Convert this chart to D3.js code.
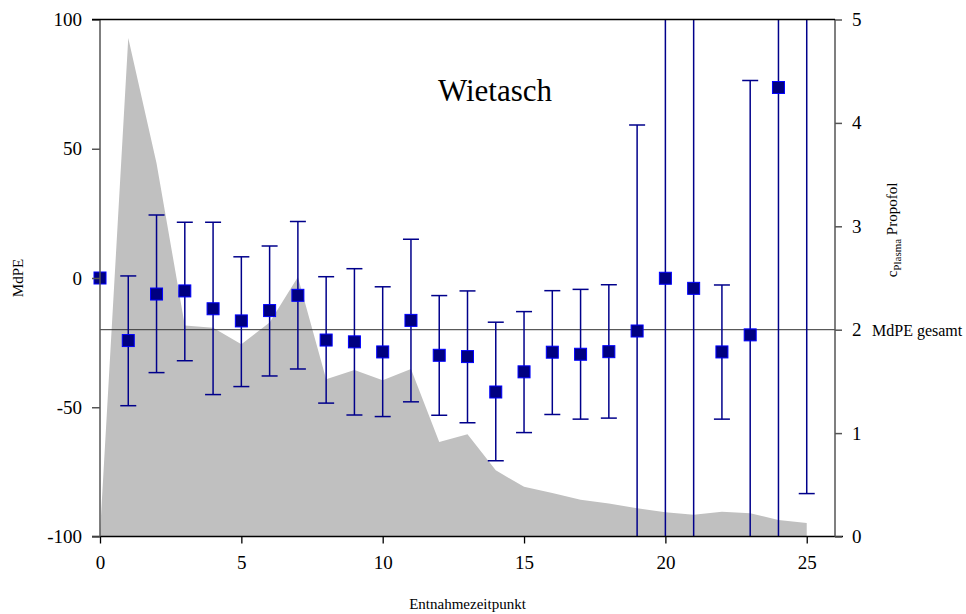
<!DOCTYPE html>
<html>
<head>
<meta charset="utf-8">
<script src="https://cdn.jsdelivr.net/npm/d3@7"></script>
<style>
  body { margin: 0; background: #fff; }
  text { font-family: "Liberation Serif", "Times New Roman", serif; fill: #000; }
</style>
</head>
<body>
<div id="chart"></div>
<script>
// Entnahmezeitpunkte (x)
var timepoints = [0,1,2,3,4,5,6,7,8,9,10,11,12,13,14,15,16,17,18,19,20,21,22,23,24,25];
// MdPE median per Zeitpunkt (null = ausserhalb)
var mdpe = [0, -24.2, -6.2, -5.0, -11.9, -16.6, -12.6, -6.7, -24.0, -24.7, -28.6, -16.4, -29.9,
            -30.4, -44.1, -36.3, -28.7, -29.5, -28.5, -20.5, -0.1, -4.0, -28.6, -22.0, 73.7, null];
// Fehlerbalken oben / unten (Werte > 100 bzw. < -100 werden abgeschnitten)
var upper = [null, 0.8, 24.4, 21.6, 21.6, 8.2, 12.4, 21.9, 0.5, 3.6, -3.4, 15.0, -6.8,
             -5.0, -17.1, -13.0, -4.9, -4.4, -2.6, 59.2, 140, 140, -2.7, 76.4, 140, 140];
var lower = [null, -49.4, -36.6, -32.0, -45.1, -42.0, -37.9, -35.2, -48.4, -53.0, -53.6, -47.9, -53.1,
             -56.0, -70.7, -59.8, -52.8, -54.6, -54.2, -140, -140, -140, -54.6, -140, -140, -83.4];
// c Plasma Propofol (rechte Achse)
var conc = [0.03, 4.82, 3.61, 2.04, 2.02, 1.86, 2.07, 2.51, 1.52, 1.61, 1.51, 1.62, 0.915,
            0.99, 0.64, 0.48, 0.42, 0.355, 0.32, 0.274, 0.235, 0.21, 0.24, 0.226, 0.16, 0.13];
var mdpeGesamt = -20;

var xTicks = [0, 5, 10, 15, 20, 25];
var yLeftTicks = [-100, -50, 0, 50, 100];
var yRightTicks = [0, 1, 2, 3, 4, 5];

var width = 966, height = 614;
var pLeft = 100, pRight = 835, pTop = 19.5, pBottom = 536.5;

var svg = d3.select("#chart").append("svg")
    .attr("width", width)
    .attr("height", height);

var x = d3.scaleLinear().domain([0, 26]).range([pLeft, pRight]);
var yL = d3.scaleLinear().domain([-100, 100]).range([pBottom, pTop]);
var yR = d3.scaleLinear().domain([0, 5]).range([pBottom, pTop]);

var plain = function(d){ return String(d); };

svg.append("clipPath").attr("id", "plot")
  .append("rect")
    .attr("x", pLeft).attr("y", pTop)
    .attr("width", pRight - pLeft).attr("height", pBottom - pTop);

// grey concentration area
var area = d3.area()
    .x(function(d, i){ return x(timepoints[i]); })
    .y0(yR(0))
    .y1(function(d){ return yR(d); });

svg.append("path")
    .datum(conc)
    .attr("d", area)
    .attr("fill", "#c0c0c0");

// MdPE gesamt line
svg.append("line")
    .attr("x1", pLeft).attr("x2", pRight)
    .attr("y1", yL(mdpeGesamt)).attr("y2", yL(mdpeGesamt))
    .attr("stroke", "#333").attr("stroke-width", 1);

var plot = svg.append("g").attr("clip-path", "url(#plot)");

var bars = timepoints.map(function(t, i){
    return { t: t, m: mdpe[i], hi: upper[i], lo: lower[i] };
});

var eb = plot.selectAll(".eb")
    .data(bars.filter(function(d){ return d.hi !== null; }))
    .enter().append("g")
    .attr("stroke", "#00008b")
    .attr("stroke-width", 1.5);

eb.append("line")
    .attr("x1", function(d){ return x(d.t); })
    .attr("x2", function(d){ return x(d.t); })
    .attr("y1", function(d){ return yL(d.hi); })
    .attr("y2", function(d){ return yL(d.lo); });

eb.filter(function(d){ return d.hi <= 100; }).append("line")
    .attr("x1", function(d){ return x(d.t) - 8; })
    .attr("x2", function(d){ return x(d.t) + 8; })
    .attr("y1", function(d){ return yL(d.hi); })
    .attr("y2", function(d){ return yL(d.hi); });

eb.filter(function(d){ return d.lo >= -100; }).append("line")
    .attr("x1", function(d){ return x(d.t) - 8; })
    .attr("x2", function(d){ return x(d.t) + 8; })
    .attr("y1", function(d){ return yL(d.lo); })
    .attr("y2", function(d){ return yL(d.lo); });

svg.selectAll(".pt")
    .data(bars.filter(function(d){ return d.m !== null; }))
    .enter().append("rect")
    .attr("x", function(d){ return x(d.t) - 6; })
    .attr("y", function(d){ return yL(d.m) - 6; })
    .attr("width", 12)
    .attr("height", 12)
    .attr("fill", "#000080")
    .attr("stroke", "#0000ff")
    .attr("stroke-width", 1);

// axes
var gx = svg.append("g")
    .attr("transform", "translate(0," + pBottom + ")")
    .call(d3.axisBottom(x).tickValues(xTicks).tickFormat(plain)
        .tickSize(7).tickSizeOuter(0).tickPadding(12));

var gl = svg.append("g")
    .attr("transform", "translate(" + pLeft + ",0)")
    .call(d3.axisLeft(yL).tickValues(yLeftTicks).tickFormat(plain)
        .tickSize(8).tickSizeOuter(0).tickPadding(10));

var gr = svg.append("g")
    .attr("transform", "translate(" + pRight + ",0)")
    .call(d3.axisRight(yR).tickValues(yRightTicks).tickFormat(plain)
        .tickSize(7).tickSizeOuter(0).tickPadding(10));

[gx, gl, gr].forEach(function(g){
    g.selectAll("text")
        .attr("font-family", "Liberation Serif, Times New Roman, serif")
        .attr("font-size", 19)
        .attr("fill", "#000");
});
gx.selectAll("path, line").attr("stroke", "#000").attr("stroke-width", 1.3);
gl.selectAll("path, line").attr("stroke", "#555").attr("stroke-width", 1.5);
gr.selectAll("path, line").attr("stroke", "#555").attr("stroke-width", 1.5);
gl.select(".domain").attr("d", "M0," + pBottom + "V" + pTop);
gr.select(".domain").attr("d", "M0," + pBottom + "V" + pTop);
gx.select(".domain").attr("d", "M" + (pLeft - 8) + ",0H" + (pRight + 8));

// top frame line
svg.append("line")
    .attr("x1", pLeft - 8).attr("x2", pRight)
    .attr("y1", pTop).attr("y2", pTop)
    .attr("stroke", "#000").attr("stroke-width", 1.5);

// titles
svg.append("text")
    .attr("x", 495).attr("y", 101)
    .attr("text-anchor", "middle")
    .attr("font-size", 31)
    .text("Wietasch");

svg.append("text")
    .attr("x", (pLeft + pRight) / 2).attr("y", 609)
    .attr("text-anchor", "middle")
    .attr("font-size", 15)
    .text("Entnahmezeitpunkt");

svg.append("text")
    .attr("transform", "translate(23," + ((pTop + pBottom) / 2) + ") rotate(-90)")
    .attr("text-anchor", "middle")
    .attr("font-size", 15)
    .text("MdPE");

var rt = svg.append("text")
    .attr("transform", "translate(897,230) rotate(-90)")
    .attr("text-anchor", "middle")
    .attr("font-size", 15);
rt.append("tspan").text("c");
rt.append("tspan").attr("dy", 4).attr("font-size", 11).text("Plasma");
rt.append("tspan").attr("dy", -4).text(" Propofol");

svg.append("text")
    .attr("x", 872).attr("y", yL(mdpeGesamt) + 6)
    .attr("font-size", 16)
    .text("MdPE gesamt");
</script>
</body>
</html>
